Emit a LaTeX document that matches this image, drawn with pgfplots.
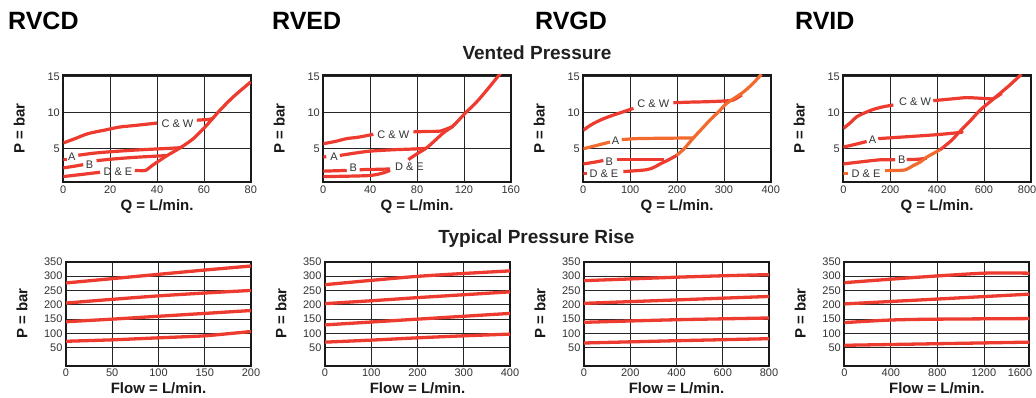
\documentclass[border=0pt]{standalone}
\usepackage{pgfplots}
\pgfplotsset{compat=1.18}
\usepackage{fontspec}
\setmainfont{Liberation Sans}
\definecolor{redline}{HTML}{EE3B30}
\definecolor{orangeline}{HTML}{F26A2E}
\definecolor{tickgray}{HTML}{333333}
\tikzset{lbl/.style={font=\fontsize{11}{11}\selectfont, text=tickgray, inner sep=0pt}}
\pgfplotsset{
  common/.style={scale only axis,
    axis line style={line width=2.1pt, black!90},
    grid=major, major grid style={line width=0.8pt, black!85},
    major tick length=0pt,
    tick label style={font=\fontsize{11}{11}\selectfont, text=tickgray},
    /pgf/number format/assume math mode=true,
    /pgf/number format/1000 sep={},
    scaled ticks=false,
    cycle list={{redline}}, no marks,
    label style={font=\fontsize{15}{15}\selectfont\bfseries, text=black!90},
    ylabel={P = bar},
    every axis plot/.append style={line width=3.2pt, redline, line cap=butt, line join=round, mark=none},
    extra x tick style={grid=none},
  },
  topax/.style={common, width=187.5pt, height=107pt, ymin=0.4, ymax=15.2, ytick={5,10,15},
    xlabel={Q = L/min.},
    xlabel style={at={(axis description cs:0.5,-0.234)}, anchor=center},
    ylabel style={at={(axis description cs:-0.235,0.5)}, anchor=center}},
  botax/.style={common, width=185pt, height=104pt, ymin=-12, ymax=350, ytick={50,100,...,350},
    xlabel={Flow = L/min.},
    xlabel style={at={(axis description cs:0.5,-0.214)}, anchor=center},
    ylabel style={at={(axis description cs:-0.238,0.5)}, anchor=center},
    every axis plot/.append style={line width=3.3pt}},
}
\begin{document}
\begin{tikzpicture}
\useasboundingbox (0,0) rectangle (1036pt,398pt);
% titles
\node[anchor=base west, font=\fontsize{25}{25}\selectfont\bfseries, inner sep=0pt] at (8pt,368pt) {RVCD};
\node[anchor=base west, font=\fontsize{25}{25}\selectfont\bfseries, inner sep=0pt] at (272pt,368pt) {RVED};
\node[anchor=base west, font=\fontsize{25}{25}\selectfont\bfseries, inner sep=0pt] at (535pt,368pt) {RVGD};
\node[anchor=base west, font=\fontsize{25}{25}\selectfont\bfseries, inner sep=0pt] at (795pt,368pt) {RVID};
\node[anchor=base, font=\fontsize{19}{19}\selectfont\bfseries, text=black!88, inner sep=0pt] at (537pt,338.7pt) {Vented Pressure};
\node[anchor=base, font=\fontsize{19}{19}\selectfont\bfseries, text=black!88, inner sep=0pt] at (536.5pt,154.7pt) {Typical Pressure Rise};

% ---------- RVCD vented ----------
\begin{axis}[topax, at={(63.3pt,216pt)}, anchor=south west, xmin=0, xmax=80, xtick={0,20,...,80}]
\addplot[smooth] coordinates {(0,5.8) (5,6.4) (10.7,7.1) (18,7.6) (24,8.0) (30,8.2) (40,8.55)};
\addplot[sharp plot] coordinates {(57,8.95) (62,9.05) (64,9.2)};
\addplot[sharp plot] coordinates {(0,3.5) (1.4,3.5)};
\addplot[smooth] coordinates {(6.4,4.1) (15,4.45) (30,4.8) (45,5.05) (50,5.15)};
\addplot[smooth] coordinates {(0,2.35) (5,2.6) (8.5,2.8)};
\addplot[smooth] coordinates {(14.2,3.35) (22,3.6) (30,3.8) (38,3.95) (44,4.05)};
\addplot[smooth] coordinates {(0,1.15) (8,1.45) (15.7,1.75)};
\addplot[smooth, tension=0.4] coordinates {(30.5,2.0) (35,2.0) (38,2.7) (44,4.0) (50,5.15) (55.5,6.4) (61.2,8.26) (66.9,10.35) (72.6,12.2) (80,14.25)};
\node[lbl] at (axis cs:48.7,8.5) {C \& W};
\node[lbl] at (axis cs:3.6,3.85) {A};
\node[lbl] at (axis cs:11.2,2.8) {B};
\node[lbl] at (axis cs:23.3,1.75) {D \& E};
\end{axis}

% ---------- RVED vented ----------
\begin{axis}[topax, at={(323.3pt,216pt)}, anchor=south west, xmin=0, xmax=160, xtick={0,40,...,160}]
\addplot[smooth] coordinates {(0,5.7) (10,6.0) (20,6.4) (30,6.6) (42.7,7.0)};
\addplot[smooth, tension=0.4] coordinates {(76.9,7.33) (90,7.4) (100,7.45) (111,8.1)};
\addplot[sharp plot] coordinates {(0,3.85) (2.5,3.9)};
\addplot[smooth] coordinates {(14.2,4.07) (25,4.35) (40,4.67) (60,4.86) (75,4.95) (88,5.05)};
\addplot[sharp plot] coordinates {(0,1.9) (20,2.0)};
\addplot[sharp plot] coordinates {(31,2.1) (45,2.15) (57,2.2)};
\addplot[smooth, tension=0.4] coordinates {(0,1.15) (20,1.2) (40,1.3) (50,1.6) (57,2.0)};
\addplot[smooth] coordinates {(72.6,3.5) (80,4.3) (88.3,5.14) (95,6.1) (102.5,7.2) (111,8.2) (121,9.9) (131,11.5) (140,13.2) (150,15.2) (152,15.6)};
\node[lbl] at (axis cs:59.8,7.0) {C \& W};
\node[lbl] at (axis cs:9.1,3.85) {A};
\node[lbl] at (axis cs:25.6,2.35) {B};
\node[lbl] at (axis cs:73.5,2.45) {D \& E};
\end{axis}

% ---------- RVGD vented ----------
\begin{axis}[topax, at={(583.3pt,216pt)}, anchor=south west, xmin=0, xmax=400, xtick={0,100,...,400}]
\addplot[smooth] coordinates {(0,7.56) (14,8.2) (28.5,8.72) (45,9.2) (64,9.65) (85,10.1) (107,10.58)};
\addplot[smooth, tension=0.4] coordinates {(192,11.37) (230,11.45) (263,11.5) (300,11.6) (320,11.74) (338,12.44)};
\addplot[orangeline, smooth] coordinates {(0,5.0) (25,5.4) (57,5.93)};
\addplot[orangeline, smooth] coordinates {(82,6.26) (114,6.4) (170,6.45) (235,6.49)};
\addplot[smooth] coordinates {(0,2.9) (20,3.1) (42.7,3.37)};
\addplot[smooth] coordinates {(71,3.5) (120,3.5) (171,3.5)};
\addplot[sharp plot] coordinates {(0,1.6) (7,1.6)};
\addplot[smooth] coordinates {(85.4,1.84) (110,1.95) (135,2.1) (150,2.4) (164,2.9) (180,3.4) (199,4.07)};
\addplot[orangeline, smooth] coordinates {(199,4.07) (215,5.0) (235,6.5) (255,7.9) (270,8.95) (290,10.2) (306,11.28) (338,12.67) (360,13.9) (380,15.3)};
\node[lbl] at (axis cs:149.5,11.2) {C \& W};
\node[lbl] at (axis cs:69,6.07) {A};
\node[lbl] at (axis cs:55.5,3.14) {B};
\node[lbl] at (axis cs:44,1.5) {D \& E};
\end{axis}

% ---------- RVID vented ----------
\begin{axis}[topax, at={(843.3pt,216pt)}, anchor=south west, xmin=0, xmax=800, xtick={0,200,...,600}, extra x ticks={784}, extra x tick labels={800}]
\addplot[smooth] coordinates {(0,7.8) (30,8.6) (57,9.42) (90,9.95) (128,10.44) (170,10.8) (213.5,11.05)};
\addplot[smooth, tension=0.4] coordinates {(384,11.65) (450,11.85) (527,12.07) (600,11.95) (640,11.93) (676,12.67)};
\addplot[smooth] coordinates {(0,5.23) (50,5.6) (99.6,6.0)};
\addplot[smooth] coordinates {(149,6.4) (220,6.55) (299,6.72) (400,6.95) (498,7.25) (505,7.35)};
\addplot[smooth] coordinates {(0,2.9) (80,3.2) (157,3.47) (221,3.47)};
\addplot[smooth] coordinates {(270,3.5) (320,3.55) (356,3.7)};
\addplot[orangeline, sharp plot] coordinates {(0,1.6) (21,1.6)};
\addplot[orangeline, smooth, tension=0.4] coordinates {(178,1.97) (220,2.0) (263,2.07) (299,2.67) (330,3.2) (356,3.84) (413,4.86)};
\addplot[smooth] coordinates {(413,4.86) (460,6.1) (498,7.42) (540,8.8) (584,10.35) (630,11.6) (669,12.67) (710,13.8) (750,15.0) (760,15.3)};
\node[lbl] at (axis cs:306,11.5) {C \& W};
\node[lbl] at (axis cs:125,6.3) {A};
\node[lbl] at (axis cs:249,3.47) {B};
\node[lbl] at (axis cs:97,1.5) {D \& E};
\end{axis}

% ---------- RVCD rise ----------
\begin{axis}[botax, at={(66pt,32.3pt)}, anchor=south west, xmin=0, xmax=200, xtick={0,50,...,200}]
\addplot[sharp plot] coordinates {(0,276) (50,291) (100,306) (150,321) (200,335)};
\addplot[smooth] coordinates {(0,206) (50,219) (100,231) (150,241) (200,250)};
\addplot[sharp plot] coordinates {(0,141) (50,150) (100,160) (150,170) (200,180)};
\addplot[smooth, tension=0.3] coordinates {(0,73) (50,78) (100,85) (150,92) (200,107)};
\end{axis}

% ---------- RVED rise ----------
\begin{axis}[botax, at={(325pt,32.3pt)}, anchor=south west, xmin=0, xmax=400, xtick={0,100,...,400}]
\addplot[smooth] coordinates {(0,270) (100,285) (200,299) (300,309) (400,318)};
\addplot[sharp plot] coordinates {(0,204) (100,214) (200,225) (300,235) (400,245)};
\addplot[sharp plot] coordinates {(0,130) (100,140) (200,150) (300,160) (400,170)};
\addplot[smooth] coordinates {(0,70) (100,77) (200,85) (300,92) (400,98)};
\end{axis}

% ---------- RVGD rise ----------
\begin{axis}[botax, at={(584pt,32.3pt)}, anchor=south west, xmin=0, xmax=800, xtick={0,200,...,800}]
\addplot[smooth] coordinates {(0,284) (200,290) (400,296) (600,301) (800,305)};
\addplot[sharp plot] coordinates {(0,205) (400,217) (800,229)};
\addplot[smooth] coordinates {(0,139) (400,148) (800,154)};
\addplot[sharp plot] coordinates {(0,67) (400,75) (800,82)};
\end{axis}

% ---------- RVID rise ----------
\begin{axis}[botax, at={(844.3pt,32.3pt)}, anchor=south west, xmin=0, xmax=1590, xtick={0,400,...,1200}, extra x ticks={1510}, extra x tick labels={1600}]
\addplot[smooth, tension=0.4] coordinates {(0,277) (600,295) (1200,310) (1590,310)};
\addplot[sharp plot] coordinates {(0,203) (800,220) (1590,237)};
\addplot[smooth] coordinates {(0,138) (400,147) (800,150) (1590,152)};
\addplot[sharp plot] coordinates {(0,59) (1590,70)};
\end{axis}
\end{tikzpicture}
\end{document}
